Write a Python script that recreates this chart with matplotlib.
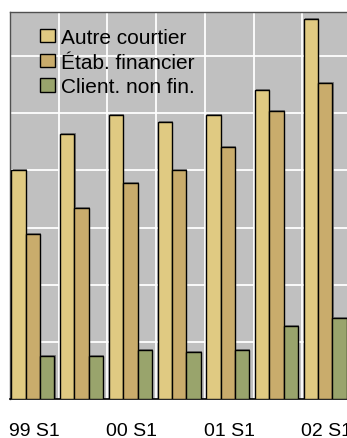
import numpy as np
import matplotlib.pyplot as plt
from matplotlib import patheffects

# Données par semestre
periodes = ["99 S1", "99 S2", "00 S1", "00 S2", "01 S1", "01 S2", "02 S1"]
autre_courtier = [40.1, 46.4, 49.6, 48.5, 49.6, 54.1, 66.4]
etab_financier = [28.9, 33.4, 37.7, 40.1, 44.0, 50.3, 55.2]
client_non_fin = [7.5, 7.5, 8.6, 8.2, 8.6, 12.8, 14.2]

series = [
    ("Autre courtier", autre_courtier, "#E0CA82"),
    ("Étab. financier", etab_financier, "#C9AC6C"),
    ("Client. non fin.", client_non_fin, "#99A46C"),
]

plt.rcParams['font.family'] = ['Liberation Sans', 'DejaVu Sans']

fig = plt.figure(figsize=(3.47, 4.39), dpi=100)
ax = fig.add_axes([10 / 347, 39 / 439, 341 / 347, 387 / 439])
ax.set_facecolor("#C0C0C0")

x = np.arange(len(periodes))
largeur = 0.294
decalage = 0.03
ombre = [patheffects.SimplePatchShadow(offset=(0.8, 0.8), shadow_rgbFace="#606060", alpha=0.7),
         patheffects.Normal()]

for j, (nom, valeurs, couleur) in enumerate(series):
    barres = ax.bar(x + decalage + j * largeur, valeurs, width=largeur, align='edge',
                    color=couleur, edgecolor="black", linewidth=1.0, label=nom, zorder=3)
    for b in barres:
        b.set_path_effects(ombre)

ax.set_xlim(0, len(periodes))
ax.set_ylim(0, 67.7)

# Grille blanche
ax.set_yticks(np.arange(10, 61, 10))
ax.set_xticks(np.arange(1, len(periodes)))
ax.grid(True, color="white", linewidth=1.3, zorder=0)
ax.tick_params(axis='both', length=0, labelleft=False, labelbottom=False)

# Libellés de l'axe x (un semestre sur deux)
for i in range(0, len(periodes), 2):
    ax.text(i + 0.5, -4.0, periodes[i], ha='center', va='top', fontsize=14,
            clip_on=False)

for cote in ["left", "top", "right"]:
    ax.spines[cote].set_color("#505050")
    ax.spines[cote].set_linewidth(1.0)
ax.spines["bottom"].set_color("black")
ax.spines["bottom"].set_linewidth(1.2)

leg = ax.legend(loc='upper left', bbox_to_anchor=(0.065, 0.98), frameon=False,
                fontsize=15, handlelength=0.72, handleheight=0.62, handletextpad=0.25,
                labelspacing=0.27, borderaxespad=0)
for h in leg.legend_handles:
    h.set_path_effects([])

fig.savefig("out.png", dpi=100)
